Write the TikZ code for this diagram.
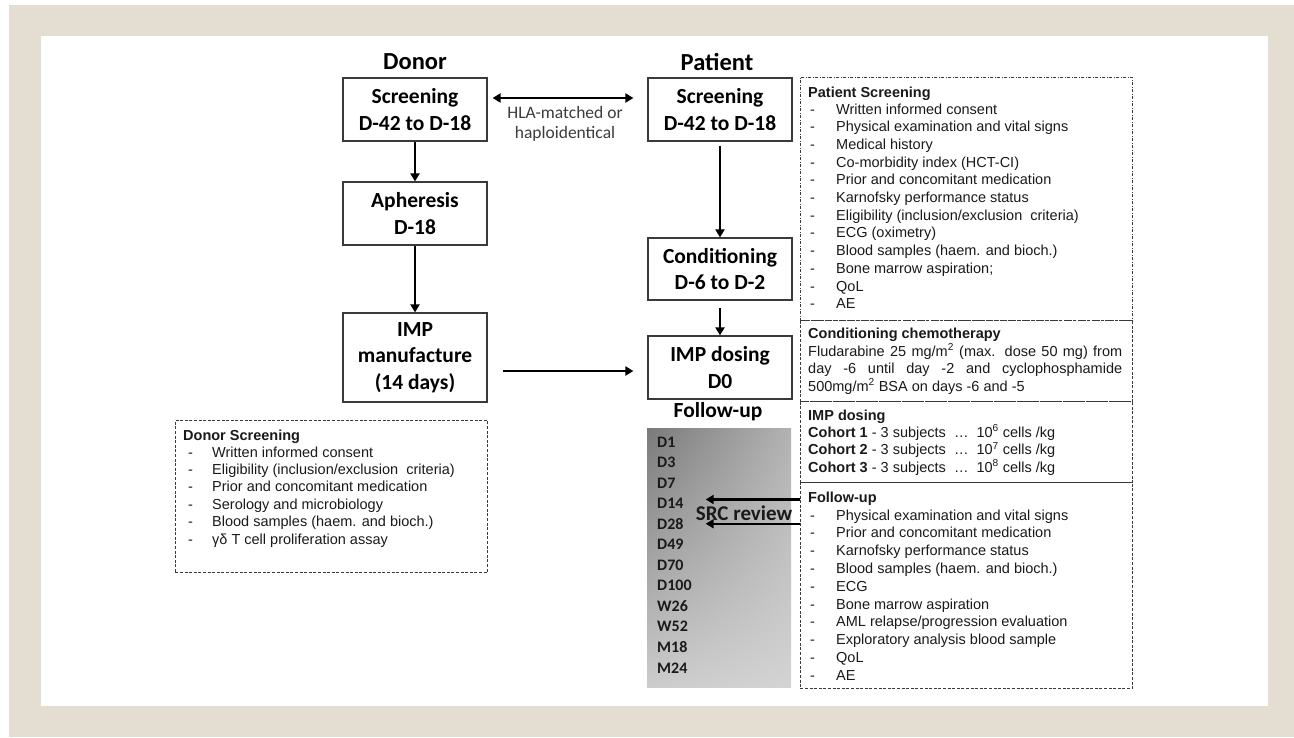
\documentclass[tikz,border=0pt]{standalone}
\usepackage{fontspec}
\setmainfont{Carlito}
\newfontfamily\arial{Liberation Sans}
\usetikzlibrary{arrows.meta,calc,shadings}
\definecolor{frame}{HTML}{E4DED2}
\definecolor{ink}{HTML}{1A1A1A}
\definecolor{edge}{HTML}{3A3A3A}
\definecolor{muted}{HTML}{3C3C3C}
\tikzset{
  stage/.style={draw=edge, line width=1.2pt, fill=white, minimum width=144pt, inner sep=0pt,
    align=center, text=black, font=\bfseries\fontsize{21.5}{26.5}\selectfont},
  head/.style={text=black, font=\bfseries\fontsize{24.5}{28}\selectfont},
  flow/.style={draw=black, line width=2.2pt, -{Triangle[length=8pt,width=9pt]}},
  note/.style={draw=edge, line width=0.9pt, dash pattern=on 3pt off 1.6pt, anchor=north west,
    inner sep=0pt},
  notetitle/.style={anchor=base west, inner sep=0pt, text=ink, font=\arial\bfseries\fontsize{14.5}{17}\selectfont},
  item/.style={anchor=base west, inner sep=0pt, text=ink, font=\arial\fontsize{14.5}{17}\selectfont},
  visit/.style={anchor=base west, inner sep=0pt, text=ink, font=\bfseries\fontsize{16}{18}\selectfont},
}

\begin{document}
\begin{tikzpicture}[x=1pt,y=-1pt]
  \useasboundingbox (0,0) rectangle (1294,737);
  \fill[white] (0,0) rectangle (1294,737);
  \fill[frame] (9,5) rectangle (1294,737);
  \fill[white] (41,36) rectangle (1268,706);

  % column heads
  \node[head] (donor) at (415,62) {Donor};
  \node[head] (patient) at (717,62) {Patient};

  % donor side
  \node[stage, minimum height=63pt] (dscr) at (415,109.5) {Screening\\D-42 to D-18};
  \node[stage, minimum height=63pt] (aph) at (415,213.5) {Apheresis\\D-18};
  \node[stage, minimum height=89pt] (manu) at (415,357.5) {IMP\\manufacture\\(14 days)};

  % patient side
  \node[stage, minimum height=63pt] (pscr) at (720,109.5) {Screening\\D-42 to D-18};
  \node[stage, minimum height=62pt] (cond) at (720,269) {Conditioning\\D-6 to D-2};
  \node[stage, minimum height=63pt] (dose) at (720,367.5) {IMP dosing\\D0};

  \draw[flow] (dscr) -- (aph);
  \draw[flow] (aph) -- (manu);
  \draw[flow] ([yshift=-4pt]pscr.south) -- (cond);
  \draw[flow] ([yshift=-7pt]cond.south) -- (dose);
  \draw[flow] ($(manu.east)+(15,13.5)$) -- ($(dose.west)+(-14,3.5)$);
  \draw[flow, {Triangle[length=8pt,width=9pt]}-{Triangle[length=8pt,width=9pt]}]
    ($(dscr.east)+(5,-11.5)$) -- ($(pscr.west)+(-14,-11.5)$);
  \node[text=muted, align=center, font=\fontsize{17.5}{20}\selectfont] (hla) at (565,124)
    {HLA-matched or\\haploidentical};

  % follow-up visits
  \node[head, font=\bfseries\fontsize{21.5}{24}\selectfont] (fuhead) at (718,412) {Follow-up};
  \shade[upper left=black!52, upper right=black!30, lower left=black!20, lower right=black!17]
    (647,428) rectangle (791,687);
  \foreach \v [count=\i from 0] in {D1,D3,D7,D14,D28,D49,D70,D100,W26,W52,M18,M24}
    \node[visit] (v\v) at (657,447+20.55*\i) {\v};
  \node[text=ink, font=\bfseries\fontsize{21}{24}\selectfont] (src) at (744,513) {SRC review};

  % notes on the right
  \node[note, dash pattern=on 3pt off 1.5pt on 1pt off 1.5pt, minimum width=332pt, minimum height=243pt]
    (pnote) at (800,77) {};
  \node[note, minimum width=332pt, minimum height=81pt] (cnote) at (800,320) {};
  \node[note, minimum width=332pt, minimum height=81pt] (inote) at (800,401) {};
  \node[note, minimum width=332pt, minimum height=206pt] (fnote) at (800,482) {};
  \node[note, minimum width=312pt, minimum height=152pt] (dnote) at (175,420) {};

  \draw[flow] ([yshift=4pt]fnote.west |- vD14.center) -- ([xshift=22pt,yshift=4pt]vD14.east);
  \draw[flow] (fnote.west |- vD28.center) -- ([xshift=22pt]vD28.east);

  \node[notetitle] (ptitle) at (808,97) {Patient Screening};
  \foreach \t [count=\i from 0] in {Written informed consent, Physical examination and vital signs,
      Medical history, Co-morbidity index (HCT-CI), Prior and concomitant medication,
      Karnofsky performance status, Eligibility (inclusion/exclusion\ \ criteria), ECG (oximetry),
      Blood samples (haem. and bioch.), Bone marrow aspiration;, QoL, AE} {
    \node[item] (pd\i) at (810,114+17.7*\i) {-};
    \node[item] (pi\i) at (836,114+17.7*\i) {\t};
  }

  \node[notetitle] (ctitle) at (808,338) {Conditioning chemotherapy};
  \node[item] (c1) at (808,356) {\makebox[314pt][s]{Fludarabine 25 mg/m\textsuperscript{2} (max. dose 50 mg) from}};
  \node[item] (c2) at (808,373) {\makebox[314pt][s]{day -6 until day -2 and cyclophosphamide}};
  \node[item] (c3) at (808,391) {500mg/m\textsuperscript{2} BSA on days -6 and -5};

  \node[notetitle] (ititle) at (808,420) {IMP dosing};
  \foreach \k/\e [count=\i from 0] in {1/6,2/7,3/8}
    \node[item] (co\k) at (808,437+17.5*\i)
      {\textbf{Cohort \k} - 3 subjects \ …\ \ 10\textsuperscript{\e} cells /kg};

  \node[notetitle] (ftitle) at (808,502) {Follow-up};
  \foreach \t [count=\i from 0] in {Physical examination and vital signs, Prior and concomitant medication,
      Karnofsky performance status, Blood samples (haem. and bioch.), ECG, Bone marrow aspiration,
      AML relapse/progression evaluation, Exploratory analysis blood sample, QoL, AE} {
    \node[item] (fd\i) at (810,520+17.8*\i) {-};
    \node[item] (fi\i) at (836,520+17.8*\i) {\t};
  }

  \node[notetitle] (dtitle) at (183,440) {Donor Screening};
  \foreach \t [count=\i from 0] in {Written informed consent, Eligibility (inclusion/exclusion\ \ criteria),
      Prior and concomitant medication, Serology and microbiology, Blood samples (haem. and bioch.),
      γδ T cell proliferation assay} {
    \node[item] (dd\i) at (188,457+17.4*\i) {-};
    \node[item] (di\i) at (212,457+17.4*\i) {\t};
  }
\end{tikzpicture}
\end{document}
